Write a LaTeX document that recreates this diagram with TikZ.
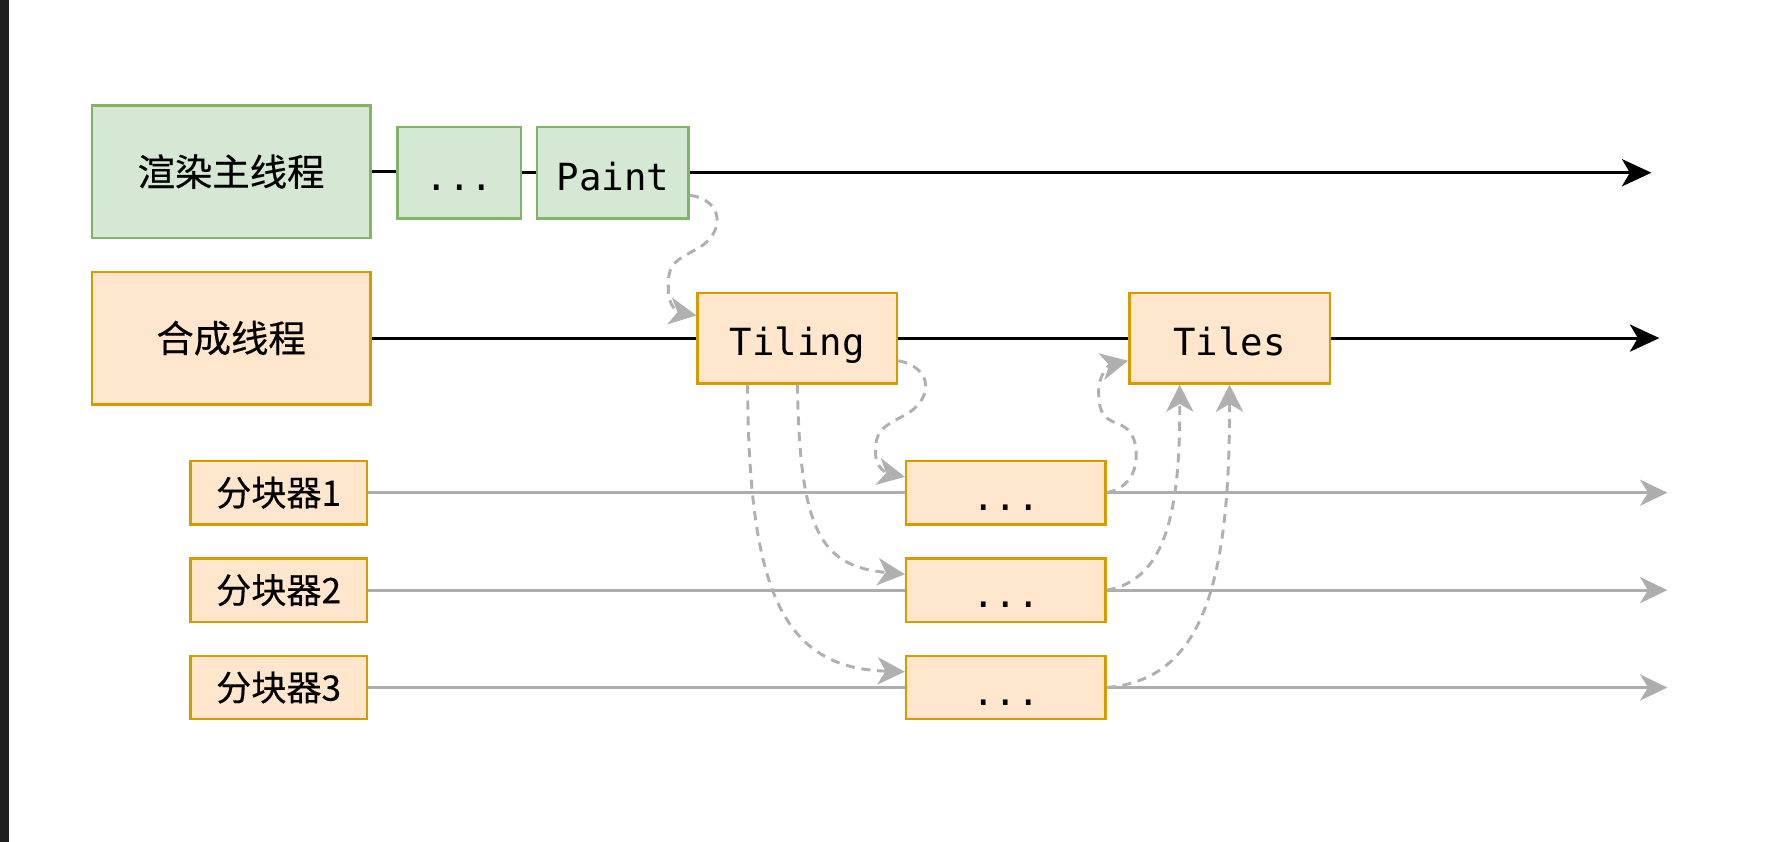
\documentclass[tikz,border=0pt]{standalone}
\usepackage{fontspec}
\setmonofont{DejaVu Sans Mono}
\newfontfamily\cjk[FakeBold=0.4]{Noto Sans CJK SC}
\usetikzlibrary{arrows.meta}
\definecolor{gfill}{HTML}{D5E8D4}
\definecolor{gline}{HTML}{82B366}
\definecolor{ofill}{HTML}{FFE6CC}
\definecolor{oline}{HTML}{D79B00}
\definecolor{grayline}{HTML}{ADADAD}
\definecolor{dashc}{HTML}{B0B0B0}
\definecolor{stripc}{HTML}{1F1F1F}
\begin{document}
\begin{tikzpicture}[x=0.5pt,y=-0.5pt,
  gbox/.style={draw=gline,fill=gfill,line width=1.1pt,inner sep=0pt},
  obox/.style={draw=oline,fill=ofill,line width=1.1pt,inner sep=0pt},
  cjkt/.style={font=\cjk\fontsize{16.5pt}{20pt}\selectfont},
  cjks/.style={font=\cjk\fontsize{15.5pt}{19pt}\selectfont},
  monot/.style={font=\ttfamily\fontsize{16.5pt}{20pt}\selectfont,text height=16.5pt,text depth=1pt},
  thread/.style={draw=black,line width=1.3pt,-{Stealth[length=13pt,width=12pt,inset=3.5pt]}},
  plainline/.style={draw=black,line width=1.3pt},
  grayrow/.style={draw=grayline,line width=1.3pt},
  grayarrow/.style={draw=grayline,line width=1.3pt,-{Stealth[length=12pt,width=11.5pt,inset=3.5pt]}},
  dashconn/.style={draw=dashc,line width=1.3pt,dash pattern=on 4pt off 3pt,-{Stealth[length=12pt,width=12pt,inset=3.5pt,fill=dashc]}}
]
\fill[white] (0,0) rectangle (1568,743);
\useasboundingbox (0,0) rectangle (1568,743);
\fill[stripc] (0,0) rectangle (8,743);

% main thread row
\node[gbox,cjkt,minimum width=123pt,minimum height=58.5pt] (main) at (204,151.5) {渲染主线程};
\node[gbox,monot,minimum width=54.5pt,minimum height=40.5pt] (dotsA) at (405.5,152.5) {...};
\node[gbox,monot,minimum width=67pt,minimum height=40.5pt] (paint) at (541,152.5) {Paint};
\coordinate (endA) at (1458,152.5);

% compositor row
\node[obox,cjkt,minimum width=123pt,minimum height=58.5pt] (comp) at (204,298.5) {合成线程};
\node[obox,monot,minimum width=88pt,minimum height=40pt] (tiling) at (704,298.5) {Tiling};
\node[obox,monot,minimum width=88.5pt,minimum height=40pt] (tiles) at (1085.5,298.5) {Tiles};
\coordinate (endB) at (1465,298.5);

% tiler rows
\node[obox,cjks,minimum width=78pt,minimum height=28pt] (t1) at (246,435) {分块器1};
\node[obox,cjks,minimum width=78pt,minimum height=28pt] (t2) at (246,521) {分块器2};
\node[obox,cjks,minimum width=78pt,minimum height=28pt] (t3) at (246,607) {分块器3};
\coordinate (end1) at (1472,435);
\coordinate (end2) at (1472,521);
\coordinate (end3) at (1472,607);

% gray rows (behind boxes)
\draw[grayrow] (t1.east) -- (888,435);
\draw[grayrow] (t2.east) -- (888,521);
\draw[grayrow] (t3.east) -- (888,607);

\node[obox,monot,minimum width=88pt,minimum height=28pt] (s1) at (888,435) {...};
\node[obox,monot,minimum width=88pt,minimum height=28pt] (s2) at (888,521) {...};
\node[obox,monot,minimum width=88pt,minimum height=28pt] (s3) at (888,607) {...};

\draw[grayarrow] (s1.east) -- (end1);
\draw[grayarrow] (s2.east) -- (end2);
\draw[grayarrow] (s3.east) -- (end3);

% black thread lines
\draw[plainline] (main.east) -- (main.east -| dotsA.west);
\draw[plainline] (dotsA.east) -- (paint.west);
\draw[thread] (paint.east) -- (endA);
\draw[plainline] (comp.east) -- (tiling.west);
\draw[plainline] (tiling.east) -- (tiles.west);
\draw[thread] (tiles.east) -- (endB);

% dashed connectors
\draw[dashconn] ([yshift=-10pt]paint.east) .. controls (638,176) and (642,205) .. (615,220)
  .. controls (592,232) and (590,235) .. (590,255)
  .. controls (590,272) and (600,276) .. ([yshift=10pt]tiling.west);
\draw[dashconn] ([yshift=-10pt]tiling.east) .. controls (822,324) and (826,350) .. (800,366)
  .. controls (776,378) and (773,382) .. (773,400)
  .. controls (773,414) and (784,418) .. ([yshift=7pt]s1.west);
\draw[dashconn] (tiling.south) .. controls (706,470) and (725,500) .. ([yshift=7pt]s2.west);
\draw[dashconn] ([xshift=-22pt]tiling.south) .. controls (661,520) and (690,590) .. ([yshift=7pt]s3.west);
\draw[dashconn] (s1.east) .. controls (1000,430) and (1004,412) .. (1003,398)
  .. controls (1002,382) and (994,376) .. (984,373)
  .. controls (972,368) and (970,360) .. (970,345)
  .. controls (970,330) and (980,322) .. ([yshift=-10pt]tiles.west);
\draw[dashconn] (s2.east) .. controls (1030,512) and (1042,450) .. ([xshift=-22pt]tiles.south);
\draw[dashconn] (s3.east) .. controls (1060,600) and (1086,520) .. (tiles.south);
\end{tikzpicture}
\end{document}
